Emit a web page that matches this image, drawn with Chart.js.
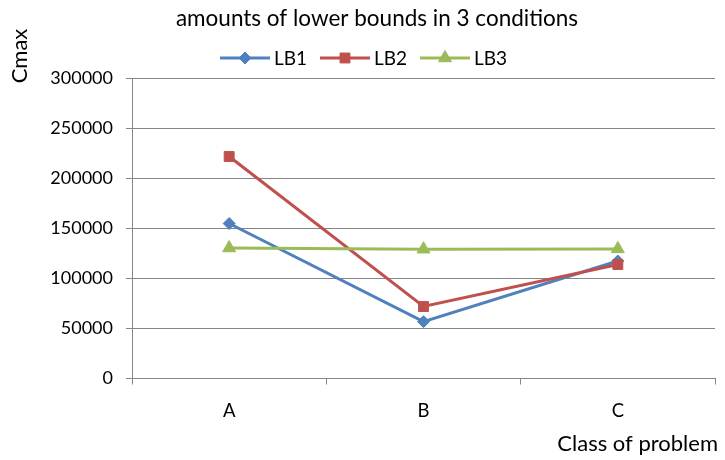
<!DOCTYPE html>
<html>
<head>
<meta charset="utf-8">
<script src="https://cdn.jsdelivr.net/npm/chart.js@4/dist/chart.umd.min.js"></script>
<style>
  html, body { margin: 0; padding: 0; background: #fff; }
  #wrap { width: 725px; height: 460px; }
</style>
</head>
<body>
<div id="wrap"><canvas id="c" width="725" height="460"></canvas></div>
<script>
const categories = ["A", "B", "C"];
const seriesNames = ["LB1", "LB2", "LB3"];
const lb1 = [155000, 56800, 117500];
const lb2 = [222000, 72000, 114000];
const lb3 = [130500, 129300, 129600];
const yTicks = [0, 50000, 100000, 150000, 200000, 250000, 300000];
const titleText = "amounts of lower bounds in 3 conditions";
const xTitle = "Class of problem";
const yTitle = "Cmax";

const FONT = "Lato, 'Open Sans', sans-serif";
const GRID = "#868686";
const colors = ["#4F81BD", "#C0504D", "#9BBB59"];
const styles = ["rectRot", "rect", "triangle"];
const radii = [6, 7, 7.5];
const values = [lb1, lb2, lb3];

const datasets = seriesNames.map((n, i) => ({
  label: n,
  data: values[i],
  borderColor: colors[i],
  backgroundColor: colors[i],
  borderWidth: 3,
  pointStyle: styles[i],
  pointRadius: radii[i],
  pointHoverRadius: radii[i],
  pointBorderWidth: 1,
  pointBackgroundColor: colors[i],
  pointBorderColor: colors[i],
  tension: 0,
  fill: false,
  order: 3 - i
}));

const decor = {
  id: 'decor',
  afterDraw(chart) {
    const ctx = chart.ctx;
    ctx.save();
    ctx.fillStyle = "#000";
    ctx.font = "22.5px " + FONT;
    ctx.textAlign = "center";
    ctx.textBaseline = "middle";
    ctx.fillText(titleText, 377, 19);
    ctx.font = "19px " + FONT;
    chart.data.datasets.forEach((ds, i) => {
      const x0 = 220 + i * 100, y = 58;
      ctx.strokeStyle = ds.borderColor;
      ctx.lineWidth = 3;
      ctx.beginPath();
      ctx.moveTo(x0, y);
      ctx.lineTo(x0 + 50, y);
      ctx.stroke();
      ctx.fillStyle = ds.backgroundColor;
      ctx.strokeStyle = ds.borderColor;
      ctx.lineWidth = 1;
      Chart.helpers.drawPoint(ctx, {pointStyle: ds.pointStyle, radius: ds.pointRadius, rotation: 0, borderWidth: 1}, x0 + 25, y);
      ctx.fillStyle = "#000";
      ctx.textAlign = "left";
      ctx.fillText(ds.label, x0 + 54, y + 1);
    });
    ctx.font = "22px " + FONT;
    ctx.textAlign = "right";
    ctx.fillText(xTitle, 718, 444);
    ctx.save();
    ctx.translate(20, 56);
    ctx.rotate(-Math.PI / 2);
    ctx.textAlign = "center";
    ctx.fillText(yTitle, 0, 0);
    ctx.restore();
    ctx.restore();
  }
};

new Chart(document.getElementById('c'), {
  type: 'line',
  data: { labels: categories, datasets },
  options: {
    responsive: false,
    animation: false,
    devicePixelRatio: 1,
    layout: { padding: { left: 0, right: 10, top: 78.5, bottom: 0 } },
    plugins: { legend: { display: false }, title: { display: false }, tooltip: { enabled: false } },
    scales: {
      x: {
        type: 'category',
        offset: true,
        grid: { display: true, offset: true, drawOnChartArea: false, drawTicks: true, tickLength: 6, color: GRID, lineWidth: 1 },
        border: { display: true, color: GRID, width: 1 },
        ticks: { color: "#000", font: { family: FONT, size: 18.5 }, padding: 15 },
        afterFit(s) { s.height = 81.5; }
      },
      y: {
        min: 0, max: 300000,
        afterBuildTicks(s) { s.ticks = yTicks.map(v => ({ value: v })); },
        grid: { color: GRID, lineWidth: 1, tickLength: 6, drawTicks: true },
        border: { display: true, color: GRID, width: 1 },
        ticks: { color: "#000", font: { family: FONT, size: 18 }, padding: 13, callback: v => String(v) },
        afterFit(s) { s.width = 132; }
      }
    }
  },
  plugins: [decor]
});
</script>
</body>
</html>
